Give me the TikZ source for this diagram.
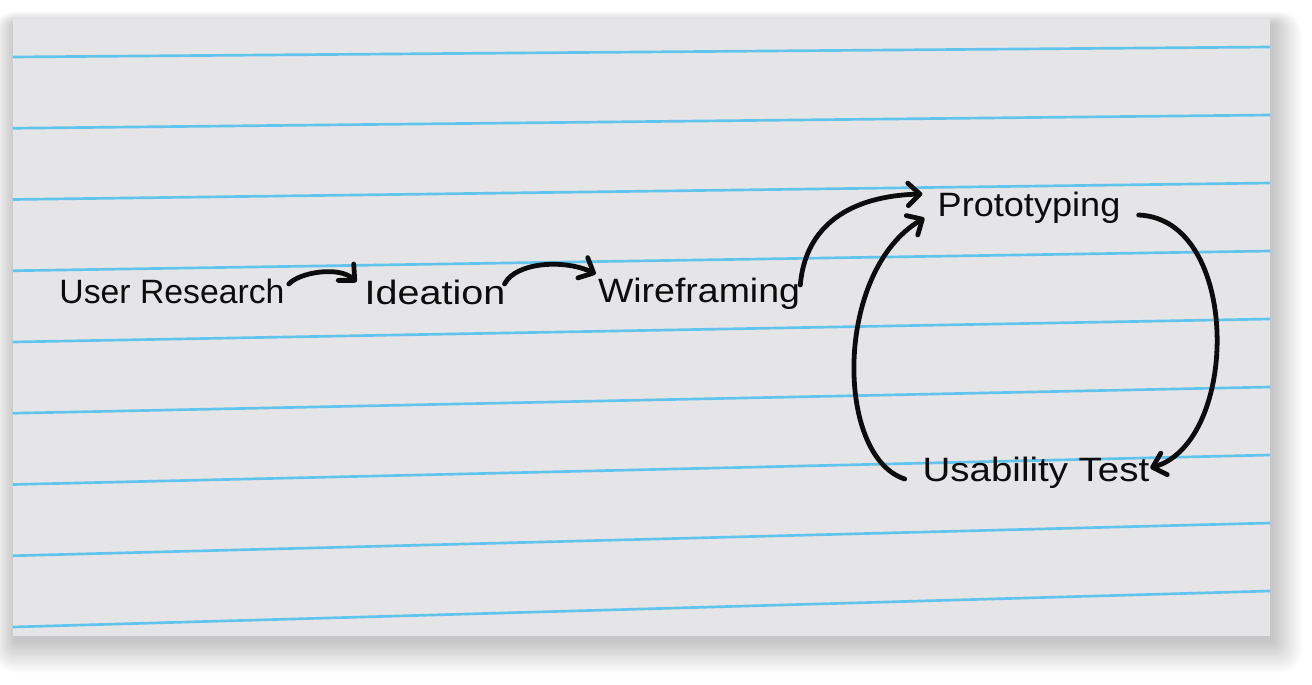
\documentclass[tikz,border=0pt]{standalone}
\usepackage{fontspec}
\usepackage{graphicx}
\setmainfont{Liberation Sans}
\usetikzlibrary{arrows.meta,calc}
\definecolor{paper}{RGB}{229,229,231}
\definecolor{rule}{RGB}{96,196,236}
\definecolor{ink}{RGB}{12,12,12}
\newcommand\widetext[2]{\scalebox{#1}[1]{#2}}
\tikzset{
  word/.style={inner sep=0pt, font=\fontsize{24}{28}\selectfont, text=ink},
  link/.style={ink, line width=3.4pt, line cap=round,
    -{Straight Barb[length=8.5pt,width=16pt,round]}},
}
\begin{document}
\begin{tikzpicture}[x=0.025cm,y=-0.025cm]
\useasboundingbox (0,0) rectangle (1312,684);
\fill[white] (0,0) rectangle (1312,684);
% soft shadow
\foreach \r in {1,...,28}{
  \fill[black, opacity=0.008, rounded corners=\r*0.6]
    ($(15,24)+(-\r*0.8,-\r*0.45)$) rectangle ($(1272,641)+(\r*1.1,\r*1.15)$);
}
% paper
\fill[paper] (13,19) rectangle (1270,636);
% ruled lines
\foreach \i in {0,...,8}{
  \draw[rule, line width=1.9pt] (13,{57+71.25*\i}) -- (1270,{47+68*\i});
}
% words
\node[word, minimum width=225*0.025cm, minimum height=26*0.025cm] (ur) at (172,291) {User Research};
\node[word, minimum width=140*0.025cm, minimum height=26*0.025cm] (id) at (435,292) {\widetext{1.17}{Ideation}};
\node[word, minimum width=202*0.025cm, minimum height=26*0.025cm] (wf) at (699,294) {\widetext{1.11}{Wireframing}};
\node[word, minimum width=182*0.025cm, minimum height=26*0.025cm] (pt) at (1029,208) {\widetext{1.07}{Prototyping}};
\node[word, minimum width=228*0.025cm, minimum height=26*0.025cm] (ut) at (1036,473) {\widetext{1.14}{Usability Test}};
% connectors
\draw[link] ($(ur.east)+(4,-7)$) .. controls ($(ur.east)+(15,-19)$) and ($(id.west)+(-25,-26)$) .. ($(id.west)+(-8,-10)$);
\draw[link] ($(id.east)+(-1,-8)$) .. controls ($(id.east)+(10,-30)$) and ($(wf.west)+(-33,-35)$) .. ($(wf.west)+(-2,-20)$);
\draw[link] ($(wf.east)+(0,-9)$) .. controls ($(wf.east)+(5,-68)$) and ($(pt.west)+(-88,-12)$) .. ($(pt.west)+(-15,-14)$);
\draw[link] ($(ut.west)+(-17,6)$) .. controls ($(ut.west)+(-87,-17)$) and ($(pt.west)+(-103,63)$) .. ($(pt.west)+(-13,10)$);
\draw[link] ($(pt.east)+(18,7)$) .. controls ($(pt.east)+(120,11)$) and ($(ut.east)+(90,-32)$) .. ($(ut.east)+(0,-5)$);
\end{tikzpicture}
\end{document}
